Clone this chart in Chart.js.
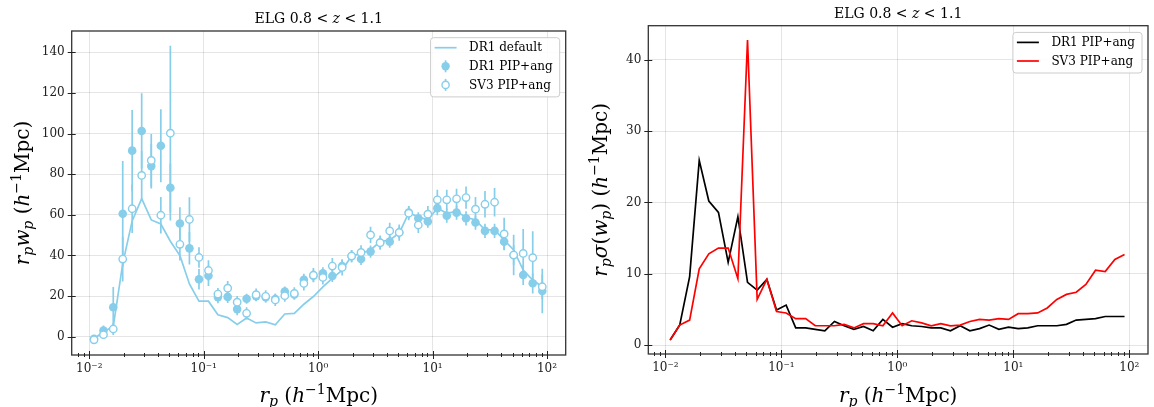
<!DOCTYPE html>
<html>
<head>
<style>
  body { margin: 0; background: #fff; }
  #wrap { position: relative; width: 1154px; height: 407px; }
  .box { position: absolute; top: 0; width: 577px; height: 407px; }
</style>
</head>
<body>
<div id="wrap">
  <div class="box" style="left:0"><canvas id="left"></canvas></div>
  <div class="box" style="left:577px"><canvas id="right"></canvas></div>
</div>
<script src="https://cdn.jsdelivr.net/npm/chart.js@4/dist/chart.umd.min.js"></script>
<script>
// projected separation bins (h^-1 Mpc)
const rp = [0.0110, 0.0133, 0.0162, 0.0196, 0.0237, 0.0287, 0.0348, 0.0422, 0.0511, 0.0619, 0.0750, 0.0909,
            0.110, 0.133, 0.162, 0.196, 0.237, 0.287, 0.348, 0.422, 0.511, 0.619, 0.750, 0.909,
            1.10, 1.33, 1.62, 1.96, 2.37, 2.87, 3.48, 4.22, 5.11, 6.19, 7.50, 9.09,
            11.0, 13.3, 16.2, 19.6, 23.7, 28.7, 34.8, 42.2, 51.1, 61.9, 75.0, 90.9];

// left panel: r_p w_p
const dr1Default = [-1.0, 2.5, 5, 36, 57, 68, 57.5, 55.5, 47, 40, 26, 17.5,
                    17.5, 10.8, 9.4, 6, 9.2, 6.8, 7.3, 5.9, 11.2, 11.5, 16, 19.8,
                    24.5, 28.7, 32.8, 39.7, 41, 42.7, 46.8, 47.6, 51, 61, 59, 57.5,
                    63.3, 60.8, 61.6, 58.8, 57.5, 52.6, 52.6, 47.6, 42.7, 32.8, 27.9, 24.6];
const dr1Pip = [-1.0, 3.0, 14.5, 60.5, 91.6, 101.3, 84, 94, 73.3, 55.7, 43.5, 28.3,
                30, 19.5, 19.6, 13.6, 18.7, 20, 19.5, 18.6, 22.2, 20.8, 28, 30,
                31.2, 29.9, 34.8, 39.7, 38.3, 41.9, 46.3, 46.8, 51.3, 61.1, 58.3, 56.7,
                63.3, 59.6, 61.1, 58.3, 56.2, 52.1, 52.1, 46.8, 40.2, 30.4, 26.3, 22.5];
const dr1PipErr = [1, 2.5, 10, 26, 20, 18.5, 11, 18, 12, 8, 8, 5,
                   5, 3, 3, 3, 2.5, 2.5, 2.5, 2.5, 2.5, 2.5, 3, 3,
                   3, 3, 3, 3, 3, 3, 3, 3, 3, 3, 3, 3,
                   3.5, 3.5, 3.5, 3.5, 3.5, 3.5, 3.5, 4, 5, 5, 5, 11];
const sv3Pip = [-1.5, 1.0, 3.8, 38.2, 63, 79.4, 86.8, 59.8, 100.2, 45.5, 57.7, 39,
                32.6, 21, 23.9, 17, 11.5, 20.7, 19.9, 18.1, 20.2, 21.3, 26.2, 30.3,
                29.2, 34.8, 34.1, 39.7, 41.5, 50.1, 46.3, 52.1, 51.3, 60.8, 55, 60.3,
                67.4, 67.4, 67.9, 68.5, 62.8, 65.2, 66.2, 50.6, 40.2, 41, 38.9, 24.6];
const sv3PipErr = [1.5, 2, 3, 11, 12, 12, 13, 9, 43, 8, 11, 5,
                   5, 3, 3.5, 3, 3, 3, 3, 3, 3, 3, 3.5, 3.5,
                   3.5, 4, 4, 3, 3.5, 4, 3.5, 4, 4, 3.5, 4, 4,
                   5, 5, 5, 5.5, 6, 6.5, 7, 8, 10, 12, 13, 6];

// right panel: r_p sigma(w_p)
const dr1Sigma = [0.7, 2.8, 9.6, 25.9, 20.2, 18.6, 11.6, 18, 8.8, 7.7, 9.2, 4.9,
                  5.6, 2.4, 2.4, 2.2, 2.0, 3.3, 2.7, 2.2, 2.6, 2.0, 3.6, 2.5,
                  3.0, 2.7, 2.6, 2.4, 2.4, 2.0, 2.7, 2.0, 2.3, 2.8, 2.2, 2.5,
                  2.3, 2.4, 2.7, 2.7, 2.7, 2.9, 3.5, 3.6, 3.7, 4.0, 4.0, 4.0];
const sv3Sigma = [0.7, 2.8, 3.5, 10.7, 12.8, 13.6, 13.6, 9.3, 42.8, 6.4, 9.2, 4.7,
                  4.5, 3.7, 3.7, 2.7, 2.7, 2.7, 2.9, 2.4, 3.0, 3.0, 2.7, 4.5,
                  2.7, 3.4, 3.1, 2.7, 3.0, 2.7, 2.8, 3.3, 3.6, 3.5, 3.7, 3.6,
                  4.4, 4.4, 4.5, 5.2, 6.4, 7.1, 7.4, 8.5, 10.5, 10.3, 12.0, 12.7];

// ticks
const xMajor = [0.01, 0.1, 1, 10, 100];
const xLabels = ['10⁻²', '10⁻¹', '10⁰', '10¹', '10²'];
const yTicksLeft = [0, 20, 40, 60, 80, 100, 120, 140];
const yTicksRight = [0, 10, 20, 30, 40];

const SKY = '#87CEEB';
const SERIF = '"DejaVu Serif", serif';

const xTicks = [];
for (let e = -3; e <= 2; e++) {
  for (let m = 1; m <= 9; m++) xTicks.push(m * Math.pow(10, e));
}
const isMajor = v => xMajor.some(m => Math.abs(m - v) / m < 1e-9);

// draw a line of mixed upright / italic / sub / sup text
function rich(ctx, parts, x, y, size, rotate) {
  const fontOf = p => (p.it ? 'italic ' : '') + (p.s ? size * 0.7 : size) + 'px ' + SERIF;
  let w = 0;
  parts.forEach(p => { ctx.font = fontOf(p); p.w = ctx.measureText(p.t).width; w += p.w; });
  ctx.save();
  ctx.translate(x, y);
  if (rotate) ctx.rotate(-Math.PI / 2);
  ctx.fillStyle = '#000';
  ctx.textBaseline = 'alphabetic';
  ctx.textAlign = 'left';
  let cx = -w / 2;
  parts.forEach(p => {
    ctx.font = fontOf(p);
    const dy = p.s === 'sub' ? size * 0.22 : p.s === 'sup' ? -size * 0.4 : 0;
    ctx.fillText(p.t, cx, dy);
    cx += p.w;
  });
  ctx.restore();
}

const titleParts = [{t: 'ELG 0.8 < '}, {t: 'z', it: true}, {t: ' < 1.1'}];
const unitParts = [{t: ' ('}, {t: 'h', it: true}, {t: '−1', s: 'sup'}, {t: 'Mpc)'}];
const xLabelParts = [{t: 'r', it: true}, {t: 'p', it: true, s: 'sub'}].concat(unitParts);
const yLabelLeft = [{t: 'r', it: true}, {t: 'p', it: true, s: 'sub'}, {t: 'w', it: true}, {t: 'p', it: true, s: 'sub'}].concat(unitParts);
const yLabelRight = [{t: 'r', it: true}, {t: 'p', it: true, s: 'sub'}, {t: 'σ', it: true}, {t: '('},
                     {t: 'w', it: true}, {t: 'p', it: true, s: 'sub'}, {t: ')'}].concat(unitParts);

function decor(cfg) {
  return {
    id: 'decor',
    beforeDatasetDraw(chart, args) {
      const ds = chart.data.datasets[args.index];
      if (!ds.errors) return;
      const {ctx, chartArea: a, scales: {x, y}} = chart;
      ctx.save();
      ctx.beginPath();
      ctx.rect(a.left, a.top, a.right - a.left, a.bottom - a.top);
      ctx.clip();
      ctx.strokeStyle = SKY;
      ctx.lineWidth = 1.7;
      ds.data.forEach((p, i) => {
        const px = x.getPixelForValue(p.x);
        ctx.beginPath();
        ctx.moveTo(px, y.getPixelForValue(p.y - ds.errors[i]));
        ctx.lineTo(px, y.getPixelForValue(p.y + ds.errors[i]));
        ctx.stroke();
      });
      ctx.restore();
    },
    afterDraw(chart) {
      const {ctx, chartArea: a, scales: {x, y}} = chart;
      ctx.save();
      // frame
      ctx.strokeStyle = '#333';
      ctx.lineWidth = 1.3;
      ctx.strokeRect(a.left, a.top, a.right - a.left, a.bottom - a.top);
      // tick marks
      ctx.strokeStyle = '#222';
      ctx.lineWidth = 1;
      x.ticks.forEach(t => {
        const px = Math.round(x.getPixelForValue(t.value)) + 0.5;
        if (px < a.left || px > a.right) return;
        const l = isMajor(t.value) ? 4 : 2;
        ctx.beginPath(); ctx.moveTo(px, a.bottom - l); ctx.lineTo(px, a.bottom + l); ctx.stroke();
      });
      y.ticks.forEach(t => {
        const py = Math.round(y.getPixelForValue(t.value)) + 0.5;
        ctx.beginPath(); ctx.moveTo(a.left - 4, py); ctx.lineTo(a.left + 4, py); ctx.stroke();
      });
      // legend
      const rows = cfg.legend;
      ctx.font = '12px ' + SERIF;
      const tw = Math.max(...rows.map(r => ctx.measureText(r.label).width));
      const bw = 4.5 + 22 + 12.5 + tw + 6.5;
      const bh = 22 + (rows.length - 1) * 18.6;
      const bx = a.right - 6.5 - bw, by = a.top + 6.2;
      ctx.fillStyle = 'rgba(255,255,255,0.85)';
      ctx.strokeStyle = '#cccccc';
      ctx.lineWidth = 1;
      ctx.beginPath();
      ctx.roundRect(bx + 0.5, by + 0.5, bw, bh, 3);
      ctx.fill(); ctx.stroke();
      rows.forEach((r, i) => {
        const cy = by + 10.5 + i * 18.6;
        const hx = bx + 4.5;
        if (r.kind === 'line') {
          ctx.strokeStyle = r.color; ctx.lineWidth = r.width;
          ctx.beginPath(); ctx.moveTo(hx, cy); ctx.lineTo(hx + 22, cy); ctx.stroke();
        } else {
          const mx = hx + 11;
          ctx.strokeStyle = SKY; ctx.lineWidth = 1.7;
          ctx.beginPath(); ctx.moveTo(mx, cy - 6); ctx.lineTo(mx, cy + 6); ctx.stroke();
          ctx.beginPath();
          ctx.arc(mx, cy, r.kind === 'filled' ? 4.2 : 3.6, 0, Math.PI * 2);
          if (r.kind === 'filled') { ctx.fillStyle = SKY; ctx.fill(); }
          else { ctx.fillStyle = '#fff'; ctx.fill(); ctx.lineWidth = 1.4; ctx.stroke(); }
        }
        ctx.fillStyle = '#000';
        ctx.textBaseline = 'middle';
        ctx.textAlign = 'left';
        ctx.fillText(r.label, hx + 34.5, cy + 0.5);
      });
      ctx.restore();
      // title and axis labels
      const mid = (a.left + a.right) / 2;
      rich(ctx, titleParts, mid, a.top - 8, 14, false);
      rich(ctx, xLabelParts, mid, 402, 20, false);
      rich(ctx, cfg.ylabel, cfg.ylabelX, (a.top + a.bottom) / 2, 20, true);
    }
  };
}

function scalesFor(o) {
  const gridColor = 'rgba(0,0,0,0.1)';
  return {
    x: {
      type: 'logarithmic',
      min: o.xmin, max: o.xmax,
      border: {display: false},
      grid: {drawTicks: false, color: c => isMajor(c.tick.value) ? gridColor : 'rgba(0,0,0,0)'},
      afterBuildTicks: s => { s.ticks = xTicks.filter(v => v >= o.xmin && v <= o.xmax).map(v => ({value: v})); },
      afterFit: s => { s.height = o.xh; },
      ticks: {
        autoSkip: false, maxRotation: 0, padding: 7, color: '#222',
        font: {family: SERIF, size: 12},
        callback: v => { const i = xMajor.findIndex(m => Math.abs(m - v) / m < 1e-9); return i < 0 ? '' : xLabels[i]; }
      }
    },
    y: {
      min: o.ymin, max: o.ymax,
      border: {display: false},
      grid: {drawTicks: false, color: gridColor},
      afterBuildTicks: s => { s.ticks = o.yticks.map(v => ({value: v})); },
      afterFit: s => { s.width = o.yw; },
      ticks: {padding: 7, color: '#222', font: {family: SERIF, size: 12}}
    }
  };
}

const pts = ys => rp.map((x, i) => ({x: x, y: ys[i]}));

new Chart('left', {
  type: 'scatter',
  data: {
    datasets: [
      {type: 'line', label: 'DR1 default', data: pts(dr1Default), borderColor: SKY, borderWidth: 1.7,
       pointRadius: 0, tension: 0, order: 2},
      {label: 'DR1 PIP+ang', data: pts(dr1Pip), errors: dr1PipErr, pointRadius: 4.3,
       backgroundColor: SKY, borderColor: SKY, borderWidth: 0, order: 1},
      {label: 'SV3 PIP+ang', data: pts(sv3Pip), errors: sv3PipErr, pointRadius: 3.7,
       backgroundColor: '#fff', borderColor: SKY, borderWidth: 1.4, order: 0}
    ]
  },
  options: {
    responsive: true, maintainAspectRatio: false, animation: false, devicePixelRatio: 1,
    layout: {padding: {top: 31, right: 11.3, left: 0, bottom: 0}},
    plugins: {legend: {display: false}, tooltip: {enabled: false}},
    scales: scalesFor({xmin: 0.00702, xmax: 145.6, xh: 52, ymin: -9, ymax: 150.5, yticks: yTicksLeft, yw: 71.7})
  },
  plugins: [decor({
    ylabel: yLabelLeft, ylabelX: 29,
    legend: [{kind: 'line', label: 'DR1 default', color: SKY, width: 1.7},
             {kind: 'filled', label: 'DR1 PIP+ang'},
             {kind: 'open', label: 'SV3 PIP+ang'}]
  })]
});

new Chart('right', {
  type: 'scatter',
  data: {
    datasets: [
      {type: 'line', label: 'DR1 PIP+ang', data: pts(dr1Sigma), borderColor: '#000', borderWidth: 1.7,
       pointRadius: 0, tension: 0, order: 1},
      {type: 'line', label: 'SV3 PIP+ang', data: pts(sv3Sigma), borderColor: '#ff0000', borderWidth: 1.7,
       pointRadius: 0, tension: 0, order: 0}
    ]
  },
  options: {
    responsive: true, maintainAspectRatio: false, animation: false, devicePixelRatio: 1,
    layout: {padding: {top: 25.7, right: 6, left: 0, bottom: 0}},
    plugins: {legend: {display: false}, tooltip: {enabled: false}},
    scales: scalesFor({xmin: 0.00713, xmax: 144.8, xh: 53, ymin: -1.26, ymax: 44.8, yticks: yTicksRight, yw: 71.3})
  },
  plugins: [decor({
    ylabel: yLabelRight, ylabelX: 30,
    legend: [{kind: 'line', label: 'DR1 PIP+ang', color: '#000', width: 1.7},
             {kind: 'line', label: 'SV3 PIP+ang', color: '#ff0000', width: 1.7}]
  })]
});
</script>
</body>
</html>
